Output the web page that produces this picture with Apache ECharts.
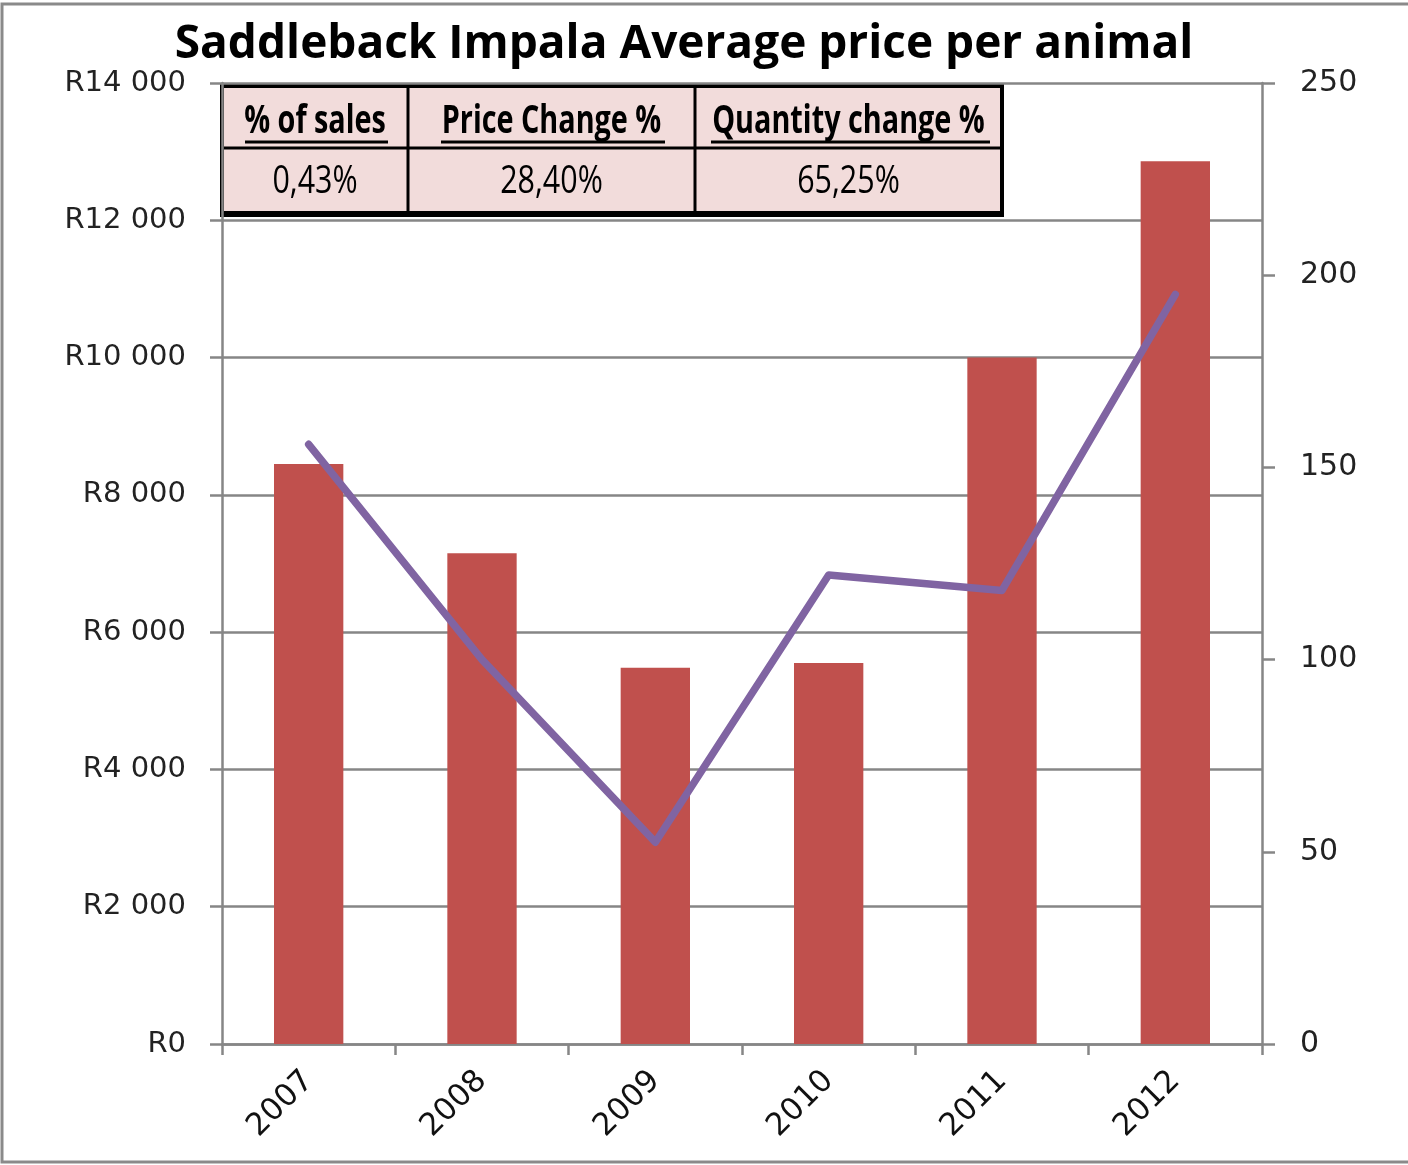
<!DOCTYPE html>
<html>
<head>
<meta charset="utf-8">
<script src="https://cdn.jsdelivr.net/npm/echarts@6/dist/echarts.min.js"></script>
<style>
  html, body { margin: 0; padding: 0; background: #fff; }
  #chart { width: 1408px; height: 1165px; }
</style>
</head>
<body>
<div id="chart"></div>
<script>
// values
const years = ["2007", "2008", "2009", "2010", "2011", "2012"];
const avgPrice = [8450, 7150, 5480, 5550, 10000, 12860];   // left axis, Rand
const quantity = [156, 100, 52.5, 122, 118, 195];          // right axis, animals

const priceTicks = { min: 0, max: 14000, interval: 2000 };
const qtyTicks = { min: 0, max: 250, interval: 50 };

const tableHeaders = ["% of sales", "Price Change %", "Quantity change %"];
const tableValues = ["0,43%", "28,40%", "65,25%"];

const gray = "#868686";
const sans = "'Open Sans', sans-serif";
const axisFont = "'DejaVu Sans', sans-serif";

function rand(v) {
  if (v === 0) return "R0";
  const s = String(v);
  return "R" + s.slice(0, s.length - 3) + " " + s.slice(-3);
}

// table overlay (top-left of the plot)
const colX = [222, 408, 695, 1002];
const rowY = [86, 148, 213];
const underlines = [[245, 388], [441, 665], [711, 990]];
const tableParts = [
  { type: "rect", shape: { x: colX[0], y: rowY[0], width: colX[3] - colX[0], height: rowY[2] - rowY[0] },
    style: { fill: "#f2dcdb", stroke: "#000", lineWidth: 4 } },
  { type: "line", shape: { x1: colX[0] - 2, y1: rowY[2] + 1, x2: colX[3] + 2, y2: rowY[2] + 1 }, style: { stroke: "#000", lineWidth: 6 } },
  { type: "line", shape: { x1: colX[0], y1: rowY[1], x2: colX[3], y2: rowY[1] }, style: { stroke: "#000", lineWidth: 3 } },
  { type: "line", shape: { x1: colX[1], y1: rowY[0], x2: colX[1], y2: rowY[2] }, style: { stroke: "#000", lineWidth: 3 } },
  { type: "line", shape: { x1: colX[2], y1: rowY[0], x2: colX[2], y2: rowY[2] }, style: { stroke: "#000", lineWidth: 3 } }
];
tableHeaders.forEach((h, i) => {
  const cx = (colX[i] + colX[i + 1]) / 2;
  tableParts.push({ type: "text", x: cx, y: 122, scaleX: 0.72,
    style: { text: h, fontFamily: sans, fontSize: 40, fontWeight: "bold", fill: "#000", align: "center", verticalAlign: "middle" } });
  tableParts.push({ type: "line", shape: { x1: underlines[i][0], y1: 142, x2: underlines[i][1], y2: 142 },
    style: { stroke: "#000", lineWidth: 3 } });
  tableParts.push({ type: "text", x: cx, y: 182, scaleX: 0.78,
    style: { text: tableValues[i], fontFamily: sans, fontSize: 39, fill: "#000", align: "center", verticalAlign: "middle" } });
});

const chart = echarts.init(document.getElementById("chart"));
chart.setOption({
  animation: false,
  backgroundColor: "#fff",
  grid: { left: 222, right: 146, top: 83, bottom: 121 },
  xAxis: {
    type: "category",
    data: years,
    axisLine: { lineStyle: { color: gray, width: 2.5 } },
    axisTick: { show: true, length: 11, lineStyle: { color: gray, width: 2.5 } },
    axisLabel: { rotate: 45, margin: 32, fontFamily: axisFont, fontSize: 31, color: "#111" }
  },
  yAxis: [
    {
      type: "value",
      min: priceTicks.min, max: priceTicks.max, interval: priceTicks.interval,
      axisLine: { show: true, lineStyle: { color: gray, width: 2.5 } },
      axisTick: { show: true, length: 12, lineStyle: { color: gray, width: 2.5 } },
      splitLine: { lineStyle: { color: gray, width: 2.5 } },
      axisLabel: { formatter: rand, margin: 36, fontFamily: axisFont, fontSize: 29, color: "#222" }
    },
    {
      type: "value",
      position: "right",
      min: qtyTicks.min, max: qtyTicks.max, interval: qtyTicks.interval,
      axisLine: { show: true, lineStyle: { color: gray, width: 2.5 } },
      axisTick: { show: true, length: 13, lineStyle: { color: gray, width: 2.5 } },
      splitLine: { show: false },
      axisLabel: { margin: 38, fontFamily: axisFont, fontSize: 30, color: "#222" }
    }
  ],
  series: [
    {
      type: "bar",
      data: avgPrice,
      barWidth: "40%",
      itemStyle: { color: "#c0504d" },
      z: 2
    },
    {
      type: "line",
      yAxisIndex: 1,
      data: quantity,
      symbol: "none",
      lineStyle: { color: "#8064a2", width: 7.5, cap: "round", join: "round" },
      z: 3
    }
  ],
  graphic: [
    { type: "rect", shape: { x: 2, y: 4, width: 1420, height: 1158 }, style: { fill: "none", stroke: "#8a8a8a", lineWidth: 3 }, z: 100 },
    { type: "text", x: 684, y: 45,
      style: { text: "Saddleback Impala Average price per animal", fontFamily: sans, fontSize: 46, fontWeight: "bold",
               fill: "#000", align: "center", verticalAlign: "middle" }, z: 100 },
    { type: "group", children: tableParts, z: 100 }
  ]
});
</script>
</body>
</html>
